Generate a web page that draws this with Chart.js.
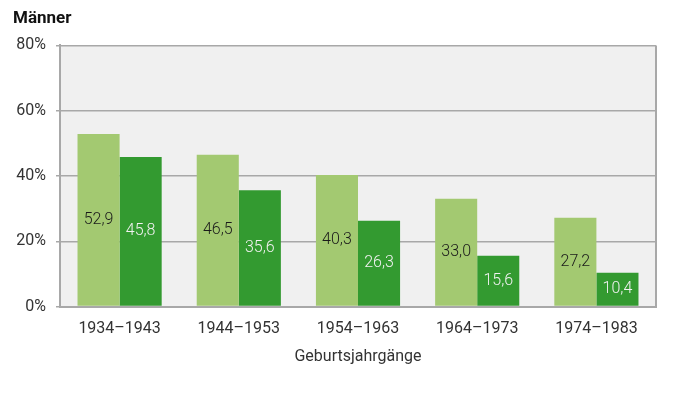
<!DOCTYPE html>
<html>
<head>
<meta charset="utf-8">
<script src="https://cdn.jsdelivr.net/npm/chart.js@4"></script>
<style>
  html, body { margin: 0; padding: 0; background: #fff; }
  #wrap { width: 673px; height: 403px; }
</style>
</head>
<body>
<div id="wrap"><canvas id="chart"></canvas></div>
<script>
var categories = ['1934\u20131943', '1944\u20131953', '1954\u20131963', '1964\u20131973', '1974\u20131983'];
var seriesLight = [52.9, 46.5, 40.3, 33.0, 27.2];
var seriesDark = [45.8, 35.6, 26.3, 15.6, 10.4];
var yTicks = [0, 20, 40, 60, 80];

var fmt = (v) => v.toFixed(1).replace('.', ',');

// background + right frame of the plot area
var plotFrame = {
    id: 'plotFrame',
    beforeDraw: (chart) => {
        var a = chart.chartArea, ctx = chart.ctx;
        ctx.save();
        ctx.fillStyle = '#f0f0f0';
        ctx.fillRect(a.left, a.top, a.right - a.left, a.bottom - a.top);
        ctx.restore();
    },
    afterDraw: (chart) => {
        var a = chart.chartArea, ctx = chart.ctx;
        ctx.save();
        ctx.strokeStyle = '#a8a8a8';
        ctx.lineWidth = 2;
        ctx.beginPath();
        ctx.moveTo(a.right, a.top);
        ctx.lineTo(a.right, a.bottom + 1);
        ctx.stroke();
        ctx.restore();
    }
};

// values in the middle of each bar
var barValues = {
    id: 'barValues',
    afterDatasetsDraw: (chart) => {
        var ctx = chart.ctx;
        ctx.save();
        ctx.font = '300 16px Roboto';
        ctx.textAlign = 'center';
        ctx.textBaseline = 'middle';
        chart.data.datasets.forEach((ds, i) => {
            chart.getDatasetMeta(i).data.forEach((bar, j) => {
                ctx.fillStyle = i == 0 ? '#1a1a1a' : '#f2f2f2';
                ctx.fillText(fmt(ds.data[j]), bar.x, (bar.y + bar.base) / 2);
            });
        });
        ctx.restore();
    }
};

window.chart = new Chart('chart', {
    type: 'bar',
    data: {
        labels: categories,
        datasets: [
            { label: 'hell', data: seriesLight, backgroundColor: '#a3c971' },
            { label: 'dunkel', data: seriesDark, backgroundColor: '#339a30' }
        ]
    },
    options: {
        responsive: true,
        maintainAspectRatio: false,
        animation: false,
        layout: { padding: { left: 13, right: 17, top: 9, bottom: 36 } },
        datasets: { bar: { categoryPercentage: 0.706, barPercentage: 1 } },
        plugins: {
            legend: { display: false },
            tooltip: { enabled: false },
            title: {
                display: true,
                text: 'M\u00e4nner',
                align: 'start',
                color: '#111',
                font: { family: 'Roboto', size: 17, weight: 'bold' },
                padding: { top: 0, bottom: 16 }
            }
        },
        scales: {
            x: {
                grid: { display: false },
                border: { display: true, color: '#a8a8a8', width: 2 },
                ticks: { color: '#333', font: { family: 'Roboto', size: 16 }, padding: 5 },
                title: {
                    display: true,
                    text: 'Geburtsjahrg\u00e4nge',
                    color: '#333',
                    font: { family: 'Roboto', size: 16 },
                    padding: { top: 4, bottom: 0 }
                }
            },
            y: {
                min: 0,
                max: 80,
                afterBuildTicks: (s) => { s.ticks = yTicks.map(v => ({ value: v })); },
                afterFit: (s) => { s.width = 47; },
                grid: { color: '#a8a8a8', lineWidth: 1.5, tickLength: 4 },
                border: { display: true, color: '#a8a8a8', width: 2 },
                ticks: {
                    color: '#333',
                    font: { family: 'Roboto', size: 16 },
                    padding: 10,
                    callback: (v) => v + '%'
                }
            }
        }
    },
    plugins: [plotFrame, barValues]
});
</script>
</body>
</html>
